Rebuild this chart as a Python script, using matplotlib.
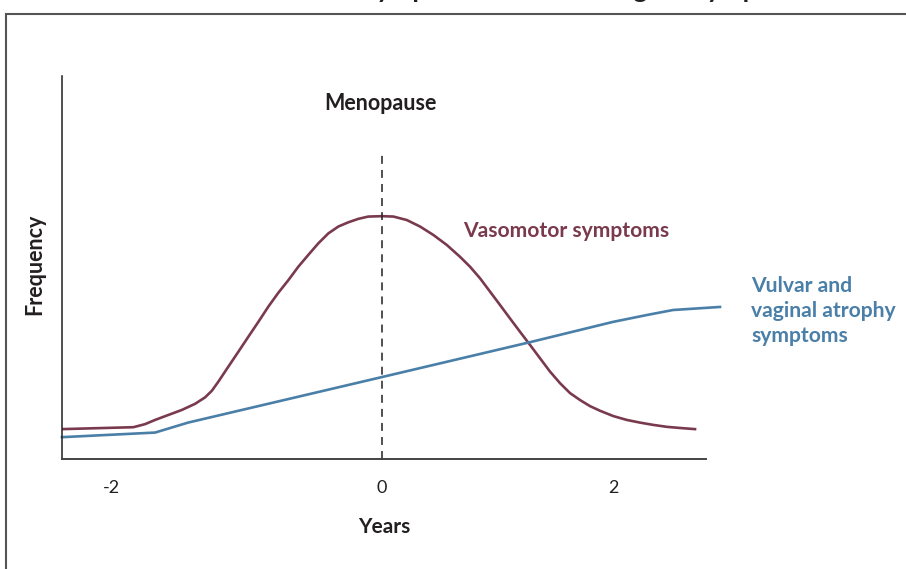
import matplotlib.pyplot as plt
from matplotlib.patches import Rectangle

# Schematic time course (x in years relative to menopause, y relative frequency)
vaso_years = [-2.773, -2.153, -2.052, -1.965, -1.850, -1.734, -1.619, -1.532,
              -1.474, -1.417, -1.331, -1.244, -1.158, -1.071, -0.984, -0.898,
              -0.811, -0.725, -0.638, -0.552, -0.465, -0.378, -0.292, -0.205,
              -0.119, 0.0, 0.098, 0.214, 0.329, 0.444, 0.560, 0.675, 0.762,
              0.848, 0.935, 1.022, 1.108, 1.195, 1.281, 1.368, 1.455, 1.541,
              1.628, 1.714, 1.801, 1.887, 2.003, 2.119, 2.234, 2.349, 2.465,
              2.580, 2.710]
vaso_freq = [0.078, 0.083, 0.091, 0.102, 0.115, 0.128, 0.144, 0.161,
             0.178, 0.202, 0.241, 0.280, 0.319, 0.358, 0.398, 0.434,
             0.467, 0.502, 0.533, 0.563, 0.589, 0.607, 0.618, 0.627,
             0.633, 0.634, 0.633, 0.624, 0.607, 0.585, 0.559, 0.528, 0.502,
             0.472, 0.437, 0.402, 0.367, 0.332, 0.298, 0.263, 0.228, 0.198,
             0.172, 0.154, 0.138, 0.126, 0.112, 0.102, 0.095, 0.089, 0.084,
             0.081, 0.078]

vva_years = [-2.771, -1.965, -1.680, 0.0, 1.281, 2.0, 2.294, 2.519, 2.926]
vva_freq = [0.057, 0.069, 0.095, 0.214, 0.305, 0.358, 0.376, 0.389, 0.397]

menopause_year = 0
tick_pos = [-2.34, 0, 2]
tick_labels = ['-2', '0', '2']

maroon = '#7a3a4e'
blue = '#4a7fa8'
dark = '#231f20'
FONT = ['Lato', 'DejaVu Sans']

fig = plt.figure(figsize=(9.06, 5.69), dpi=100)
ax = fig.add_axes([62 / 906, 110 / 569, 644 / 906, 383 / 569])

# outer frame (only its left and top edges fall inside the picture)
fig.patches.append(Rectangle((6 / 906, -0.2), 1.2, 1.2 - 14 / 569,
                             transform=fig.transFigure, fill=False,
                             edgecolor='#555555', linewidth=1.5))

# title, cut off at the top edge as in the source
fig.text(228 / 906, 1 + 1.5 / 569, 'Vasomotor symptoms and vulvovaginal symptoms',
         ha='left', va='baseline', fontsize=19, weight='bold', color=dark,
         family=FONT)

ax.plot(vaso_years, vaso_freq, color=maroon, lw=1.9, solid_joinstyle='round')
ax.plot(vva_years, vva_freq, color=blue, lw=1.9, clip_on=False, solid_joinstyle='round')
ax.vlines(menopause_year, 0, 0.807, colors=dark, lw=1.1,
          linestyles=(0, (5.2, 4.0)))

ax.set_xlim(-2.771, 2.805)
ax.set_ylim(0, 1)
for s in ['top', 'right']:
    ax.spines[s].set_visible(False)
ax.spines['left'].set_color(dark)
ax.spines['bottom'].set_color('#444444')
ax.spines['left'].set_linewidth(1.1)
ax.spines['bottom'].set_linewidth(1.4)
ax.set_yticks([])
ax.set_xticks(tick_pos)
ax.set_xticklabels(tick_labels, fontsize=13, family=FONT, color=dark)
ax.tick_params(axis='x', length=0, pad=15)

ax.set_xlabel('Years', fontsize=15, weight='bold', family=FONT, color=dark, labelpad=15.5)
fig.text(35 / 906, 1 - 264 / 569, 'Frequency', rotation=90, ha='center', va='center',
         fontsize=15.5, weight='bold', family=FONT, color=dark)

fig.text(380 / 906, 1 - 103 / 569, 'Menopause', ha='center', va='center',
         fontsize=15.5, weight='bold', family=FONT, color=dark)
fig.text(463 / 906, 1 - 231 / 569, 'Vasomotor symptoms', ha='left', va='center',
         fontsize=15.2, weight='bold', family=FONT, color=maroon)
for i, line in enumerate(['Vulvar and', 'vaginal atrophy', 'symptoms']):
    fig.text(751 / 906, 1 - (292 + 25 * i) / 569, line, ha='left', va='baseline',
             fontsize=15.2, weight='bold', family=FONT, color=blue)

fig.savefig('out.png', dpi=100, facecolor='white')
